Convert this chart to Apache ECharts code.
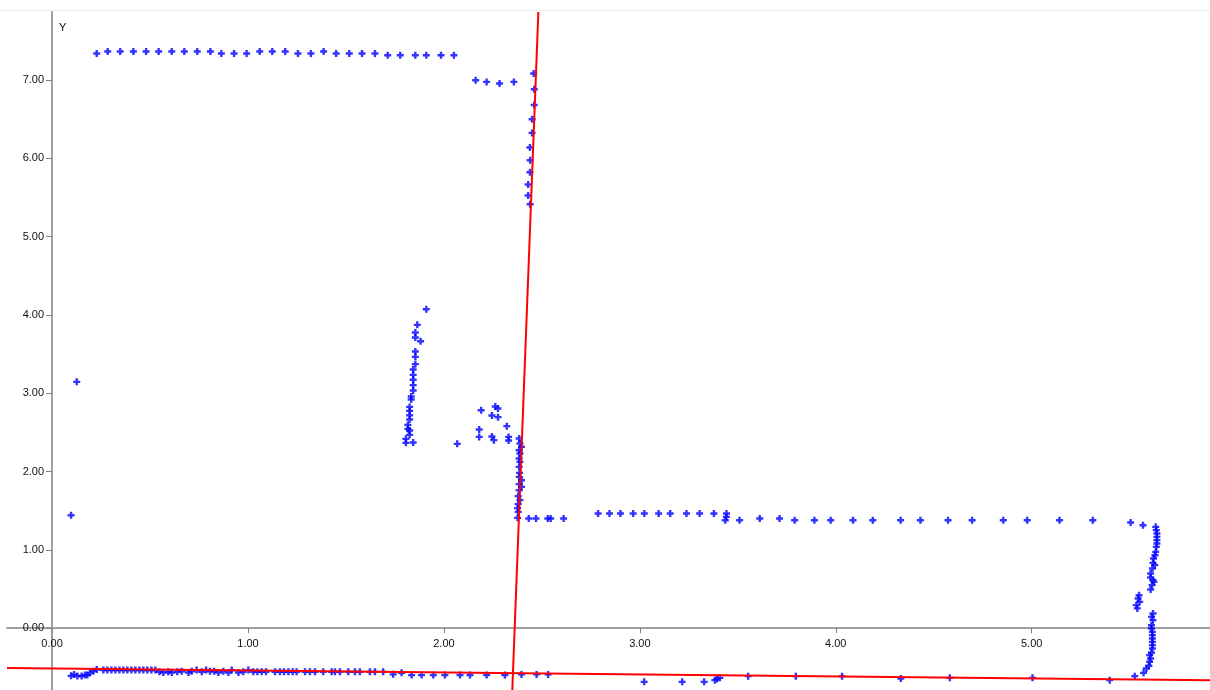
<!DOCTYPE html>
<html>
<head>
<meta charset="utf-8">
<script src="https://cdn.jsdelivr.net/npm/echarts@6/dist/echarts.min.js"></script>
<style>html,body{margin:0;padding:0;background:#fff;}#c{width:1210px;height:690px;}</style>
</head>
<body>
<div id="c"></div>
<script>
// ---- data ----
const xTicks = [0, 1, 2, 3, 4, 5];
const yTicks = [0, 1, 2, 3, 4, 5, 6, 7];

const topRow = [
  [0.228,7.340],[0.284,7.365],[0.348,7.365],[0.415,7.365],[0.480,7.365],[0.544,7.365],[0.611,7.365],[0.675,7.365],
  [0.741,7.365],[0.808,7.365],[0.864,7.340],[0.929,7.340],[0.993,7.340],[1.060,7.365],[1.124,7.365],[1.190,7.365],
  [1.255,7.340],[1.321,7.340],[1.386,7.365],[1.450,7.340],[1.517,7.340],[1.582,7.340],[1.648,7.340],[1.713,7.318],
  [1.777,7.318],[1.854,7.318],[1.910,7.318],[1.985,7.318],[2.051,7.318]
];
const secondRow = [[2.162,6.999],[2.218,6.977],[2.284,6.956],[2.357,6.977]];
const upperWall = [
  [2.458,7.084],[2.461,6.884],[2.461,6.683],[2.450,6.501],[2.450,6.326],[2.439,6.139],[2.440,5.977],[2.439,5.824],
  [2.430,5.667],[2.430,5.526],[2.440,5.415]
];
const leftCluster = [
  [1.910,4.074],[1.864,3.874],[1.854,3.777],[1.854,3.713],[1.881,3.665],[1.854,3.534],[1.854,3.465],[1.854,3.372],
  [1.843,3.304],[1.843,3.235],[1.843,3.172],[1.843,3.104],[1.843,3.036],[1.833,2.959],[1.833,2.921],[1.825,2.826],
  [1.825,2.775],[1.825,2.720],[1.825,2.665],[1.816,2.596],[1.816,2.545],[1.825,2.525],[1.825,2.469],[1.806,2.418],
  [1.806,2.367],[1.843,2.372]
];
const midCluster = [
  [2.068,2.354],[2.190,2.784],[2.180,2.538],[2.180,2.443],[2.262,2.831],[2.276,2.806],[2.245,2.716],[2.276,2.695],
  [2.245,2.448],[2.255,2.401],[2.321,2.580],[2.330,2.443],[2.330,2.397]
];
const lowerWall = [
  [2.384,2.423],[2.388,2.359],[2.396,2.315],[2.384,2.273],[2.388,2.231],[2.384,2.167],[2.388,2.124],[2.384,2.060],
  [2.386,1.983],[2.384,1.932],[2.396,1.890],[2.384,1.839],[2.396,1.805],[2.384,1.762],[2.379,1.686],[2.388,1.635],
  [2.379,1.584],[2.376,1.533],[2.379,1.485],[2.376,1.409]
];
const middleRow = [
  [2.433,1.401],[2.470,1.401],[2.530,1.401],[2.545,1.401],[2.611,1.401],
  [2.787,1.465],[2.845,1.465],[2.901,1.465],[2.966,1.465],[3.023,1.465],[3.096,1.465],[3.155,1.465],[3.238,1.465],
  [3.305,1.465],[3.378,1.465],[3.442,1.465],[3.442,1.421],[3.436,1.379],
  [3.509,1.379],[3.612,1.401],[3.713,1.401],[3.790,1.379],[3.891,1.379],[3.974,1.379],[4.088,1.379],[4.189,1.379],
  [4.331,1.379],[4.432,1.379],[4.573,1.379],[4.696,1.379],[4.855,1.379],[4.977,1.379],[5.142,1.379],[5.312,1.379]
];
const rightWall = [
  [5.505,1.350],[5.568,1.315],[5.633,1.294],[5.636,1.252],[5.639,1.209],[5.639,1.166],[5.639,1.124],[5.639,1.082],
  [5.636,1.038],[5.633,0.974],[5.629,0.932],[5.622,0.890],[5.619,0.834],[5.628,0.805],[5.616,0.762],[5.607,0.698],
  [5.607,0.647],[5.619,0.613],[5.624,0.591],[5.614,0.549],[5.607,0.494],[5.548,0.421],[5.543,0.379],[5.551,0.336],
  [5.534,0.294],[5.539,0.252],[5.619,0.188],[5.612,0.144],[5.619,0.102],[5.611,0.038],[5.611,-0.004],[5.616,-0.047],
  [5.616,-0.089],[5.616,-0.132],[5.616,-0.175],[5.616,-0.217],[5.616,-0.259],[5.611,-0.315],[5.602,-0.345],
  [5.607,-0.387],[5.602,-0.430],[5.598,-0.481],[5.585,-0.515],[5.571,-0.571],[5.526,-0.613],[5.398,-0.664]
];
const bottomRow = [
  [0.097,-0.609],[0.112,-0.591],[0.129,-0.612],[0.151,-0.612],[0.168,-0.600],[0.180,-0.600],[0.194,-0.571],
  [0.211,-0.549],[0.228,-0.528],
  [0.262,-0.536],[0.282,-0.536],[0.303,-0.536],[0.323,-0.536],[0.344,-0.536],[0.364,-0.536],[0.384,-0.536],
  [0.405,-0.536],[0.425,-0.536],[0.446,-0.536],[0.466,-0.536],[0.486,-0.536],[0.507,-0.536],[0.527,-0.536],
  [0.548,-0.558],[0.568,-0.566],[0.593,-0.558],[0.611,-0.566],[0.639,-0.558],[0.662,-0.550],[0.696,-0.566],
  [0.713,-0.550],[0.738,-0.536],[0.764,-0.558],[0.786,-0.536],[0.806,-0.550],[0.827,-0.550],[0.849,-0.566],
  [0.874,-0.550],[0.900,-0.566],[0.917,-0.536],[0.951,-0.566],[0.976,-0.558],[1.002,-0.536],[1.027,-0.558],
  [1.048,-0.558],[1.070,-0.558],[1.092,-0.558],[1.138,-0.558],[1.163,-0.558],[1.184,-0.558],[1.206,-0.558],
  [1.228,-0.558],[1.248,-0.558],[1.291,-0.558],[1.316,-0.558],[1.342,-0.558],[1.384,-0.558],[1.427,-0.558],
  [1.444,-0.558],[1.469,-0.558],[1.512,-0.558],[1.546,-0.558],[1.571,-0.558],[1.622,-0.558],[1.648,-0.558],
  [1.690,-0.558],[1.741,-0.590],[1.784,-0.571],[1.835,-0.600],[1.886,-0.600],[1.946,-0.600],[2.005,-0.600],
  [2.082,-0.600],[2.133,-0.600],[2.218,-0.600],[2.311,-0.600],[2.396,-0.591],[2.473,-0.591],[2.532,-0.591],
  [3.022,-0.686],[3.216,-0.686],[3.328,-0.686],[3.383,-0.664],[3.394,-0.651],[3.408,-0.635],[3.553,-0.613],
  [3.796,-0.613],[4.032,-0.613],[4.332,-0.643],[4.582,-0.635],[5.004,-0.635]
];
const outliers = [[0.126,3.146],[0.097,1.443]];

const redLineH = [[-0.23,-0.510],[5.91,-0.664]];
const redLineV = [[2.482,7.87],[2.349,-0.79]];

// ---- layout ----
const W = 1210, H = 690;
const G = {left: 7, right: 0, top: 12, bottom: 0};
const xMin = -0.23, xMax = 5.91, yMin = -0.79, yMax = 7.87;
const gw = W - G.left - G.right, gh = H - G.top - G.bottom;
// place axes where the other axis' zero falls (offset from grid edges)
const yAxisOffset = -(0 - xMin) / (xMax - xMin) * gw;
const xAxisOffset = -(0 - yMin) / (yMax - yMin) * gh;

const allPoints = [].concat(topRow, secondRow, upperWall, leftCluster, midCluster, lowerWall, middleRow, rightWall, bottomRow, outliers);
const cross = 'path://M2.3,0H4.7V2.3H7V4.7H4.7V7H2.3V4.7H0V2.3H2.3Z';
const labelFont = {fontFamily: 'Liberation Sans, Arial, sans-serif', fontSize: 11, color: '#111'};

const chart = echarts.init(document.getElementById('c'), null, {renderer: 'canvas'});
chart.setOption({
  animation: false,
  backgroundColor: '#fff',
  grid: Object.assign({containLabel: false, outerBoundsMode: 'none'}, G),
  xAxis: {
    type: 'value', min: xMin, max: xMax, position: 'bottom', offset: xAxisOffset,
    splitLine: {show: false},
    axisLine: {onZero: false, lineStyle: {color: '#a0a0a0', width: 2}},
    axisTick: {show: true, length: 5, customValues: xTicks, lineStyle: {color: '#808080', width: 1}},
    axisLabel: Object.assign({customValues: xTicks, margin: 10, formatter: v => v.toFixed(2)}, labelFont)
  },
  yAxis: {
    type: 'value', min: yMin, max: yMax, position: 'left', offset: yAxisOffset,
    splitLine: {show: false},
    axisLine: {onZero: false, lineStyle: {color: '#a0a0a0', width: 2}},
    axisTick: {show: true, length: 6, customValues: yTicks, lineStyle: {color: '#808080', width: 1}},
    axisLabel: Object.assign({customValues: yTicks, margin: 8, formatter: v => v.toFixed(2)}, labelFont)
  },
  graphic: [
    {type: 'line', shape: {x1: 0, y1: 10.5, x2: 1210, y2: 10.5}, style: {stroke: '#ececec', lineWidth: 1}, silent: true},
    {type: 'text', left: 59, top: 22, style: {text: 'Y', font: '11px Liberation Sans', fill: '#111'}}
  ],
  series: [
    {
      type: 'scatter', data: allPoints, symbol: cross, symbolSize: 7,
      itemStyle: {color: '#0000ff'}, z: 2
    },
    {
      type: 'line', data: redLineH, showSymbol: false, lineStyle: {color: '#ff0000', width: 2}, z: 3
    },
    {
      type: 'line', data: redLineV, showSymbol: false, lineStyle: {color: '#ff0000', width: 2}, z: 3
    }
  ]
});
</script>
</body>
</html>
